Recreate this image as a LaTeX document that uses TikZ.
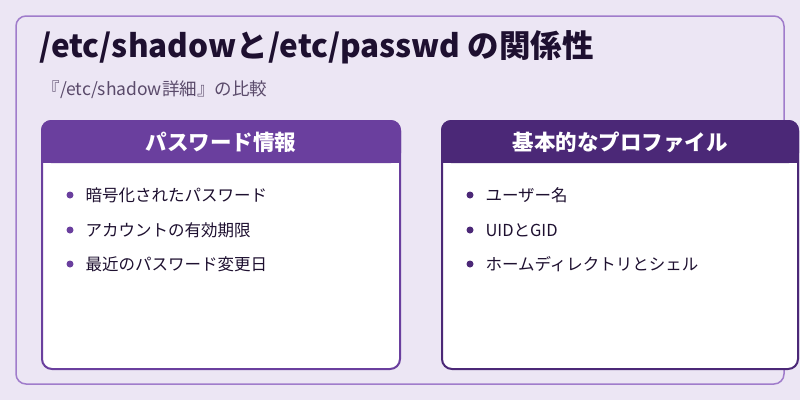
\documentclass[tikz,border=0pt]{standalone}
\usepackage{fontspec}
\setmainfont{Noto Sans CJK JP}
\definecolor{bg}{HTML}{ECE6F4}
\definecolor{frame}{HTML}{A07CCB}
\definecolor{hl}{HTML}{6A3F9E}
\definecolor{hr}{HTML}{4B2877}
\definecolor{ink}{HTML}{1E1030}
\definecolor{sub}{HTML}{5A4A6A}
\begin{document}
\begin{tikzpicture}[x=1pt,y=-1pt,
  card/.style={rounded corners=10pt,line width=2pt,fill=white},
  head/.style={font=\fontsize{21.5}{24}\selectfont\bfseries,text=white},
  item/.style={anchor=west,font=\fontsize{16.5}{19}\selectfont,text=ink},
  dot/.style={circle,inner sep=0pt,minimum size=7pt}]
\useasboundingbox (0,0) rectangle (800,400);
\fill[bg] (0,0) rectangle (800,400);
\draw[frame,line width=1.5pt,rounded corners=10pt] (16,16) rectangle (784,384);
\node[anchor=west,font=\fontsize{31.5}{36}\selectfont\bfseries,text=ink] (title) at (36,47) {/etc/shadowと/etc/passwd の関係性};
\node[anchor=west,font=\fontsize{17.5}{20}\selectfont,text=sub] (subt) at (39,90) {『/etc/shadow詳細』の比較};
% left card
\draw[hl,card] (42,121) rectangle (400,369);
\fill[hl,rounded corners=10pt] (41,120) rectangle (401,163);
\fill[hl] (41,150) rectangle (401,163);
\node[head] (lh) at (221,142) {パスワード情報};
\foreach \y/\t [count=\i] in {195/暗号化されたパスワード,230/アカウントの有効期限,264/最近のパスワード変更日}{
  \node[dot,fill=hl] (ld\i) at (70,\y) {};
  \node[item] (lt\i) at (82,\y) {\t};
}
% right card
\draw[hr,card] (442,121) rectangle (798,369);
\fill[hr,rounded corners=10pt] (441,120) rectangle (799,163);
\fill[hr] (441,150) rectangle (799,163);
\node[head] (rh) at (620,142) {基本的なプロファイル};
\foreach \y/\t [count=\i] in {195/ユーザー名,230/UIDとGID,264/ホームディレクトリとシェル}{
  \node[dot,fill=hr] (rd\i) at (470,\y) {};
  \node[item] (rt\i) at (482,\y) {\t};
}
\end{tikzpicture}
\end{document}
